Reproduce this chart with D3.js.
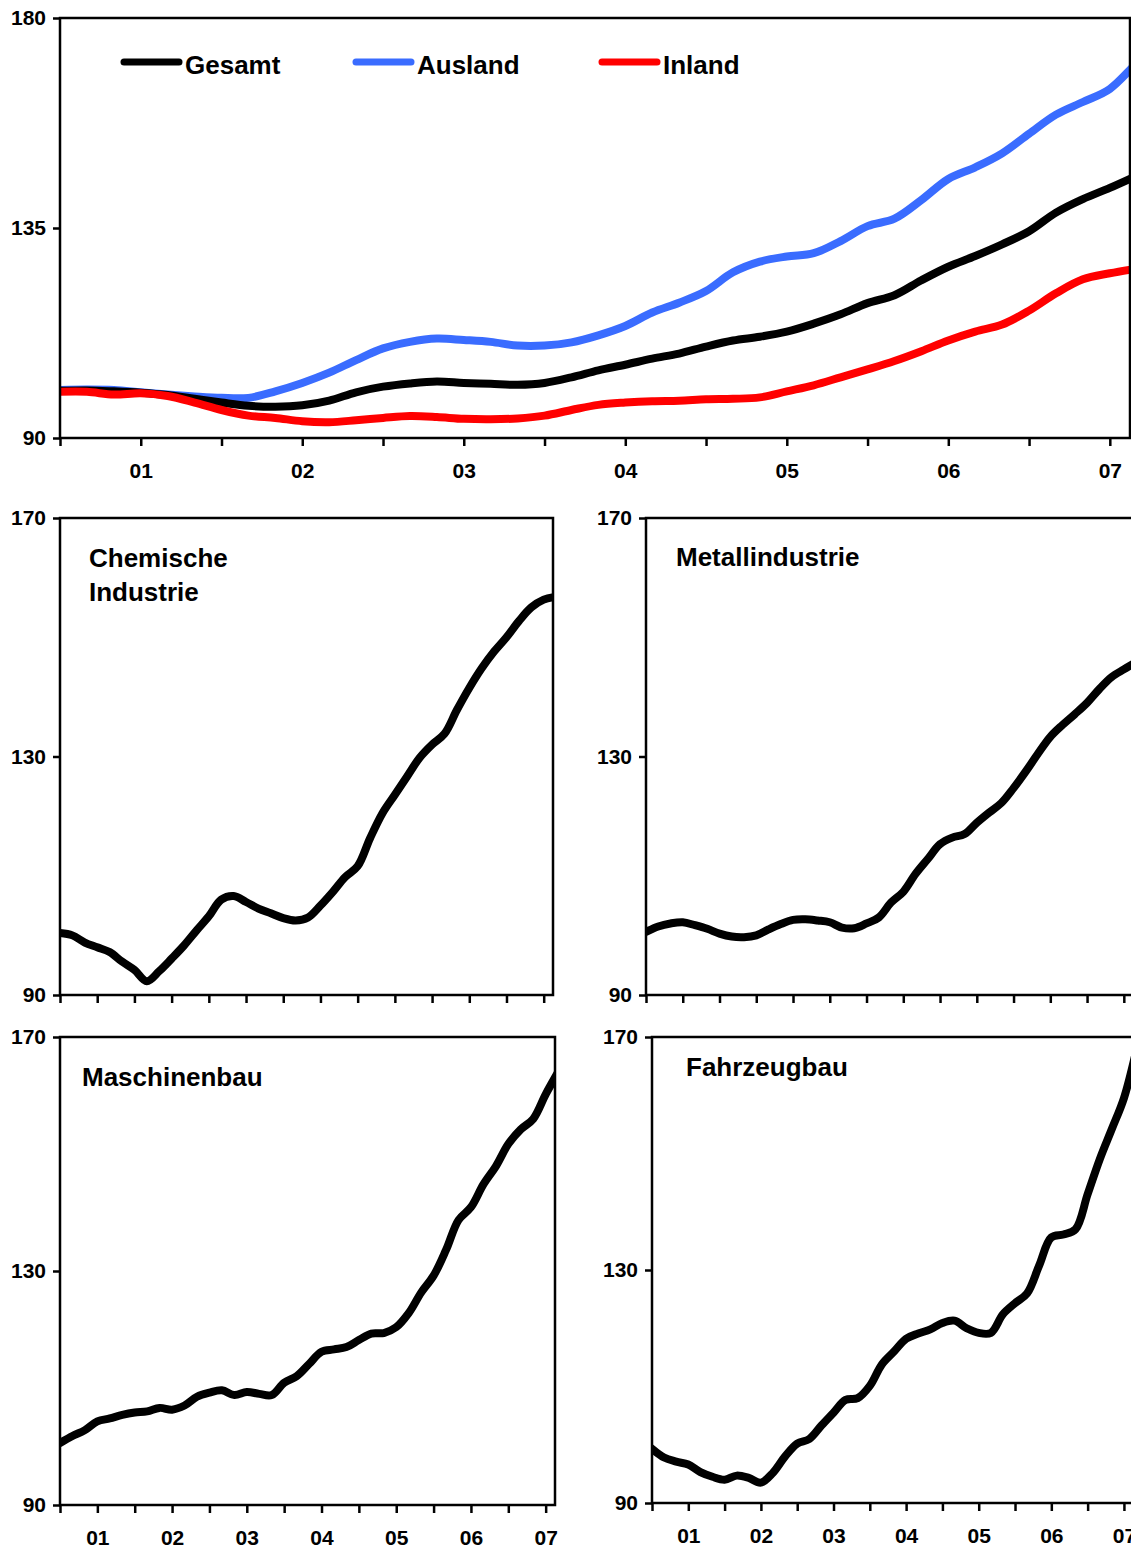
<!DOCTYPE html>
<html>
<head>
<meta charset="utf-8">
<title>Auftragseingang</title>
<style>
  body { margin: 0; background: #fff; }
  text { font-family: "Liberation Sans", Arial, sans-serif; font-weight: bold; fill: #000; }
  .axis text { font-size: 21px; }
  .axis path { display: none; }
  .axis line { stroke: #000; stroke-width: 2.5; }
  .frame { fill: none; stroke: #000; stroke-width: 2.5; }
  .series { fill: none; stroke-width: 8; stroke-linejoin: round; stroke-linecap: round; }
</style>
<script src="https://d3js.org/d3.v7.min.js"></script>
</head>
<body>
<svg width="1131" height="1548"></svg>
<script>
// bimonthly sample points, Jul 2000 .. Mar 2007
var months = ["2000-07","2000-09","2000-11","2001-01","2001-03","2001-05","2001-07","2001-09","2001-11",
  "2002-01","2002-03","2002-05","2002-07","2002-09","2002-11","2003-01","2003-03","2003-05","2003-07","2003-09","2003-11",
  "2004-01","2004-03","2004-05","2004-07","2004-09","2004-11","2005-01","2005-03","2005-05","2005-07","2005-09","2005-11",
  "2006-01","2006-03","2006-05","2006-07","2006-09","2006-11","2007-01","2007-03"];

var yearLabels = ["01","02","03","04","05","06","07"];

var gesamt  = [100.1,100.2,100.0,99.7,99.2,98.4,97.6,96.9,96.7,97.0,98.0,99.8,101.0,101.7,102.1,101.8,101.6,101.4,101.8,103.0,104.5,
  105.7,107.0,108.1,109.6,110.9,111.7,112.8,114.5,116.5,118.9,120.6,123.8,126.7,129.0,131.5,134.3,138.3,141.2,143.6,146.2];
var ausland = [100.3,100.4,100.3,99.8,99.3,98.9,98.6,98.6,100.0,101.8,104.0,106.7,109.2,110.6,111.3,111.0,110.6,109.8,109.8,110.5,112.0,
  114.0,116.9,119.0,121.5,125.5,127.8,128.9,129.6,132.2,135.4,137.0,141.0,145.5,148.0,151.0,155.2,159.3,162.0,164.8,170.5];
var inland  = [99.9,99.9,99.3,99.6,99.0,97.6,96.0,94.8,94.3,93.6,93.4,93.8,94.3,94.7,94.5,94.1,94.0,94.2,94.8,96.0,97.1,
  97.6,97.9,98.0,98.3,98.4,98.7,100.0,101.3,103.0,104.7,106.5,108.6,110.9,112.8,114.3,117.3,121.0,124.0,125.3,126.3];

var chemie   = [100.4,100.0,98.8,98.0,97.2,95.6,94.2,92.3,94.0,96.1,98.3,100.8,103.2,106.0,106.6,105.6,104.5,103.7,102.9,102.5,103.0,
  105.0,107.3,109.8,111.6,116.3,120.5,123.6,126.7,129.8,132.0,133.8,137.8,141.5,144.8,147.6,150.0,152.7,155.0,156.3,156.8];
var metall   = [100.6,101.5,102.0,102.2,101.7,101.1,100.3,99.8,99.7,100.0,101.0,101.9,102.6,102.7,102.5,102.2,101.3,101.2,102.0,103.0,105.5,
  107.3,110.3,112.8,115.3,116.4,117.0,118.9,120.6,122.2,124.7,127.5,130.5,133.3,135.3,137.1,139.0,141.3,143.3,144.6,145.8];
var maschinen = [100.6,101.8,102.8,104.3,104.8,105.4,105.8,106.0,106.6,106.3,107.0,108.5,109.2,109.6,108.8,109.3,109.0,108.8,110.9,112.0,114.1,
  116.2,116.6,117.0,118.2,119.3,119.4,120.4,122.8,126.3,129.2,133.6,138.7,140.9,144.8,147.9,151.7,154.2,156.0,160.2,164.0];
var fahrzeug = [99.3,97.8,97.1,96.6,95.3,94.5,94.0,94.7,94.3,93.5,95.2,98.0,100.2,101.0,103.3,105.5,107.7,108.0,110.1,113.8,116.0,
  118.2,119.1,119.8,120.9,121.3,120.0,119.2,119.2,122.4,124.3,126.0,130.8,135.6,136.1,137.0,143.0,149.0,154.2,159.5,167.5];

var tYears = months.map(function(m){ var p = m.split("-"); return +p[0] + (+p[1] - 1) / 12; });

var svg = d3.select("svg");
var clipId = 0;

function panel(cfg){
  var x = d3.scaleLinear().domain([2000.5, 2007.125]).range([cfg.left, cfg.right]);
  var y = d3.scaleLinear().domain(cfg.yDomain).range([cfg.bottom, cfg.top]);
  var g = svg.append("g");

  var id = "clip" + (clipId++);
  g.append("clipPath").attr("id", id).append("rect")
    .attr("x", cfg.left).attr("y", cfg.top)
    .attr("width", Math.min(cfg.right, 1131) - cfg.left).attr("height", cfg.bottom - cfg.top);

  var line = d3.line()
    .x(function(d, i){ return x(tYears[i]); })
    .y(function(d){ return y(d); })
    .curve(d3.curveCatmullRom.alpha(0.5));

  cfg.series.forEach(function(s){
    g.append("path").attr("class", "series")
      .attr("clip-path", "url(#" + id + ")")
      .attr("stroke", s.color)
      .attr("d", line(s.values));
  });

  g.append("rect").attr("class", "frame")
    .attr("x", cfg.left).attr("y", cfg.top)
    .attr("width", cfg.right - cfg.left).attr("height", cfg.bottom - cfg.top);

  g.append("g").attr("class", "axis")
    .attr("transform", "translate(" + cfg.left + ",0)")
    .call(d3.axisLeft(y).tickValues(cfg.yTicks).tickSize(7).tickPadding(7).tickFormat(d3.format("d")));

  var halfYears = d3.range(0, 14).map(function(i){ return 2000.5 + i * 0.5; });
  g.append("g").attr("class", "axis")
    .attr("transform", "translate(0," + cfg.bottom + ")")
    .call(d3.axisBottom(x).tickValues(halfYears).tickSize(8).tickPadding(17)
      .tickFormat(function(d){
        if (!cfg.xLabels || d % 1 !== 0) return "";
        return yearLabels[d - 2001];
      }));

  (cfg.title || []).forEach(function(t, i){
    g.append("text").attr("x", cfg.titleX).attr("y", cfg.titleY + i * 34)
      .style("font-size", "26px").text(t);
  });
  return g;
}

panel({
  left: 60, right: 1130, top: 18, bottom: 438, yDomain: [90, 180], yTicks: [90, 135, 180], xLabels: true,
  series: [
    {name: "Ausland", color: "#3a6cff", values: ausland},
    {name: "Gesamt", color: "#000000", values: gesamt},
    {name: "Inland", color: "#ff0000", values: inland}
  ]
});

var legend = [
  {name: "Gesamt", color: "#000000", x: 124},
  {name: "Ausland", color: "#3a6cff", x: 356},
  {name: "Inland", color: "#ff0000", x: 602}
];
legend.forEach(function(l){
  svg.append("line").attr("x1", l.x).attr("x2", l.x + 55).attr("y1", 62).attr("y2", 62)
    .attr("stroke", l.color).attr("stroke-width", 7).attr("stroke-linecap", "round");
  svg.append("text").attr("x", l.x + 61).attr("y", 74).style("font-size", "26px").text(l.name);
});

panel({left: 60, right: 553, top: 518, bottom: 995, yDomain: [90, 170], yTicks: [90, 130, 170],
  title: ["Chemische", "Industrie"], titleX: 89, titleY: 567,
  series: [{color: "#000", values: chemie}]});
panel({left: 646, right: 1133, top: 518, bottom: 995, yDomain: [90, 170], yTicks: [90, 130, 170],
  title: ["Metallindustrie"], titleX: 676, titleY: 566,
  series: [{color: "#000", values: metall}]});
panel({left: 60, right: 555, top: 1037, bottom: 1505, yDomain: [90, 170], yTicks: [90, 130, 170], xLabels: true,
  title: ["Maschinenbau"], titleX: 82, titleY: 1086,
  series: [{color: "#000", values: maschinen}]});
panel({left: 652, right: 1133, top: 1037, bottom: 1503, yDomain: [90, 170], yTicks: [90, 130, 170], xLabels: true,
  title: ["Fahrzeugbau"], titleX: 686, titleY: 1076,
  series: [{color: "#000", values: fahrzeug}]});
</script>
</body>
</html>
